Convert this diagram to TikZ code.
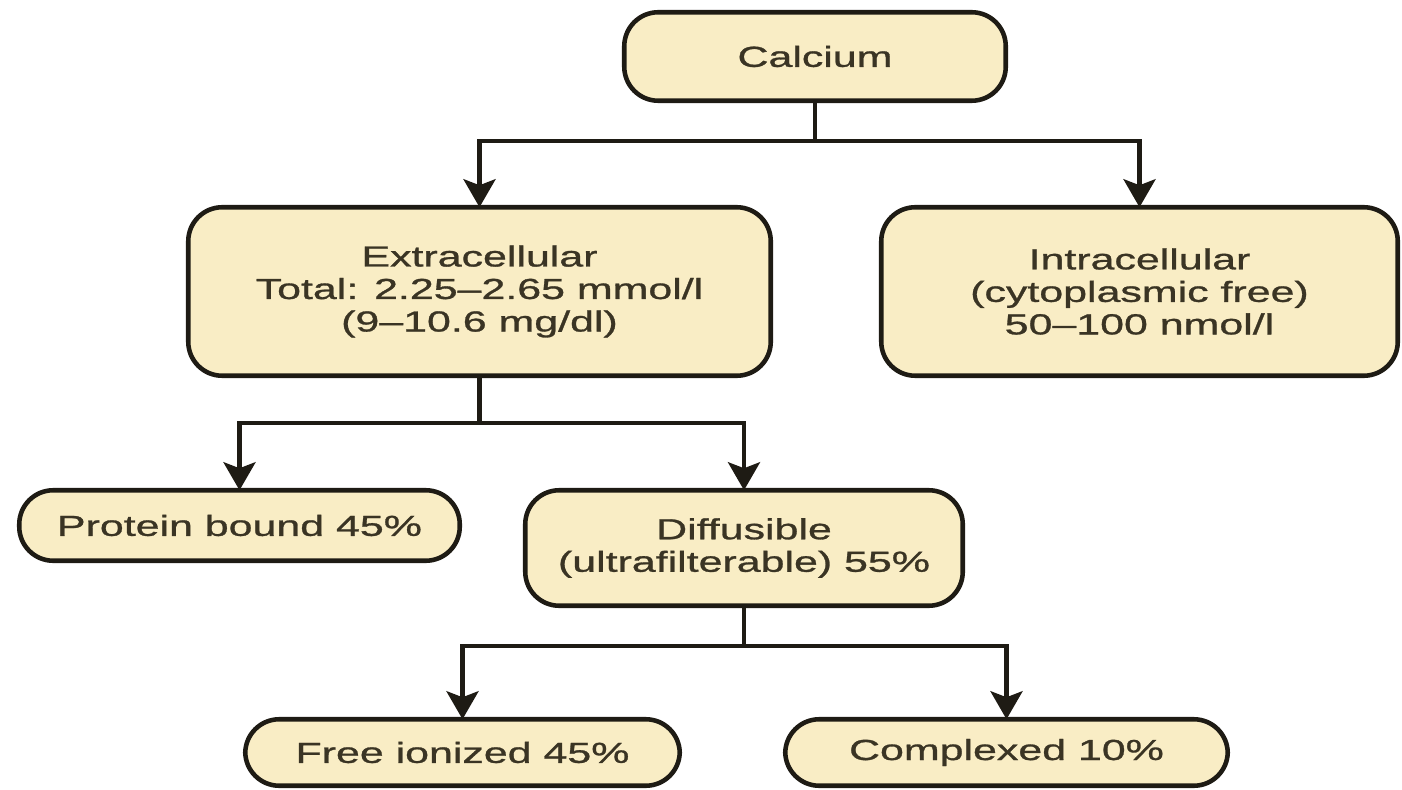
\documentclass[tikz,border=0pt]{standalone}
\usepackage{fontspec}
\setmainfont{Liberation Sans}[FakeStretch=1.48, FakeBold=1]
\usepackage{tikz}
\usetikzlibrary{arrows.meta, positioning}
\definecolor{cafill}{RGB}{249, 237, 197}
\definecolor{caline}{RGB}{30, 27, 20}
\definecolor{catext}{RGB}{58, 52, 36}

\begin{document}
\begin{tikzpicture}[
    node distance=2cm and 2cm,
    box/.style={draw=caline, fill=cafill, line width=2.6pt, rounded corners=0.68cm, align=center,
                text=catext, inner sep=0pt, outer sep=0pt, font=\fontsize{16.5pt}{18.5pt}\selectfont},
    arrow/.style={-{Stealth[length=0.56cm, width=0.64cm, inset=0.12cm]}, line width=2.4pt, caline},
    link/.style={line width=2.4pt, caline},
  ]
  \useasboundingbox (0,0) rectangle (28.04,-15.8);

  % Top level
  \node[box, minimum width=7.63cm, minimum height=1.77cm] (calcium) at (16.30,-1.13) {Calcium};

  % Second level
  \node[box, minimum width=11.65cm, minimum height=3.37cm, below=2.13cm of calcium, xshift=-6.71cm] (extra)
    {Extracellular\\Total: 2.25–2.65 mmol/l\\(9–10.6 mg/dl)};
  \node[box, minimum width=10.33cm, minimum height=3.37cm, right=2.21cm of extra] (intra)
    {Intracellular\\(cytoplasmic free)\\50–100 nmol/l};

  % Third level
  \node[box, minimum width=8.81cm, minimum height=1.41cm, below=2.29cm of extra, xshift=-4.8cm] (protein)
    {Protein bound 45\%};
  \node[box, minimum width=8.75cm, minimum height=2.31cm, right=1.31cm of protein.north east, anchor=north west] (diffus)
    {Diffusible\\(ultrafilterable) 55\%};

  % Fourth level
  \node[box, minimum width=8.69cm, minimum height=1.33cm, below=2.27cm of diffus, xshift=-5.63cm] (ionized)
    {Free ionized 45\%};
  \node[box, minimum width=8.85cm, minimum height=1.33cm, right=2.11cm of ionized] (complexed)
    {Complexed 10\%};

  % Branch points
  \coordinate[below=0.8cm of calcium] (split1);
  \coordinate[below=0.94cm of extra] (split2);
  \coordinate[below=0.8cm of diffus] (split3);

  % Arrows
  \draw[link] (calcium) -- (split1);
  \draw[arrow] (split1) -| (extra.north);
  \draw[arrow] (split1) -| (intra.north);
  \draw[link] (extra) -- (split2);
  \draw[arrow] (split2) -| (protein.north);
  \draw[arrow] (split2) -| (diffus.north);
  \draw[link] (diffus) -- (split3);
  \draw[arrow] (split3) -| (ionized.north);
  \draw[arrow] (split3) -| (complexed.north);

\end{tikzpicture}
\end{document}
